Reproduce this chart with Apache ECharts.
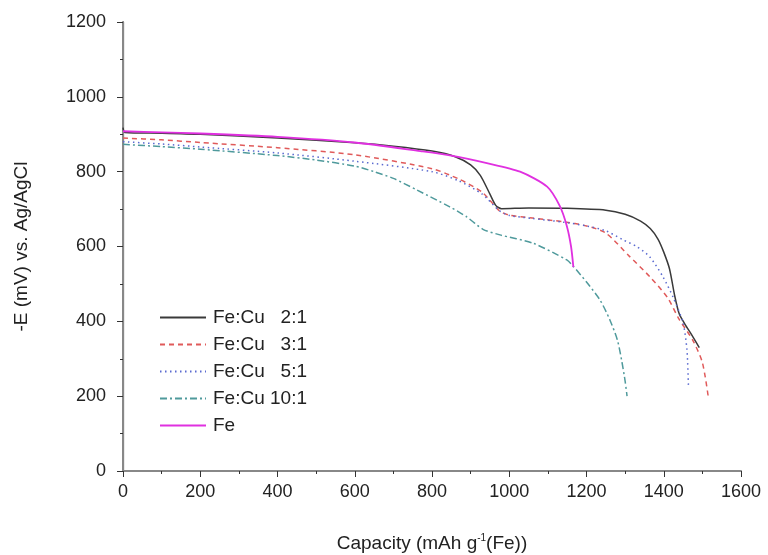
<!DOCTYPE html>
<html>
<head>
<meta charset="utf-8">
<script src="https://cdn.jsdelivr.net/npm/echarts@6/dist/echarts.min.js"></script>
<style>html,body{margin:0;padding:0;background:#fff;}#c{width:768px;height:555px;}</style>
</head>
<body>
<div id="c"></div>
<script>
const xTicks = [0, 200, 400, 600, 800, 1000, 1200, 1400, 1600];
const yTicks = [0, 200, 400, 600, 800, 1000, 1200];
const seriesNames = ['Fe:Cu   2:1', 'Fe:Cu   3:1', 'Fe:Cu   5:1', 'Fe:Cu 10:1', 'Fe'];

const cap21 = [0, 5, 100, 200, 400, 600, 700, 800, 860, 900, 925, 950, 965, 980, 1050, 1150, 1250, 1300, 1340, 1365, 1385, 1400, 1415, 1428, 1440, 1455, 1470, 1492];
const e21   = [918, 905, 903, 900, 890, 877, 868, 855, 840, 818, 790, 740, 710, 701, 703, 702, 697, 686, 668, 648, 620, 585, 540, 470, 420, 392, 368, 330];

const cap31 = [0, 100, 200, 400, 600, 800, 870, 930, 975, 1000, 1060, 1140, 1200, 1250, 1310, 1365, 1410, 1440, 1475, 1500, 1515];
const e31   = [890, 885, 878, 864, 845, 808, 780, 745, 695, 684, 676, 666, 655, 636, 575, 518, 463, 405, 350, 290, 200];

const cap51 = [0, 100, 200, 400, 600, 800, 870, 930, 975, 1000, 1060, 1140, 1200, 1250, 1294, 1330, 1364, 1398, 1424, 1450, 1460, 1464];
const e51   = [880, 874, 866, 850, 828, 800, 775, 740, 695, 683, 675, 665, 655, 642, 618, 600, 572, 519, 465, 396, 324, 225];

const cap101 = [0, 100, 200, 400, 500, 600, 650, 700, 761, 846, 890, 932, 976, 1061, 1149, 1165, 1200, 1235, 1260, 1280, 1292, 1300, 1305];
const e101   = [873, 867, 860, 843, 831, 815, 800, 782, 751, 706, 679, 646, 631, 609, 564, 548, 505, 457, 405, 350, 290, 240, 200];

const capFe = [0, 100, 200, 400, 600, 770, 850, 942, 1028, 1098, 1131, 1149, 1160, 1166];
const eFe   = [908, 905, 902, 893, 878, 855, 843, 823, 800, 760, 708, 655, 600, 545];

function pairs(xs, ys) { return xs.map((x, i) => [x, ys[i]]); }

const colors = ['#3a3a3a', '#e05a5a', '#5a6ad0', '#4f9a9c', '#e030e0'];
const types = ['solid', [5, 4], [1.5, 3.5], [7, 3, 2, 3], 'solid'];
const data = [pairs(cap21, e21), pairs(cap31, e31), pairs(cap51, e51), pairs(cap101, e101), pairs(capFe, eFe)];

const chart = echarts.init(document.getElementById('c'));
const font = 'Liberation Sans, Arial, sans-serif';
chart.setOption({
  backgroundColor: '#fff',
  animation: false,
  textStyle: { fontFamily: font },
  grid: { left: 123, right: 27, top: 22, bottom: 84, outerBoundsMode: 'none', containLabel: false },
  legend: {
    orient: 'vertical', left: 154, top: 303,
    itemWidth: 46, itemHeight: 14, itemGap: 8,
    itemStyle: { opacity: 0 },
    textStyle: { fontSize: 19, color: '#222', fontFamily: font, padding: [0, 0, 0, 2] },
    data: seriesNames
  },
  xAxis: [{
    type: 'value', min: 0, max: 1600, interval: 200,
    name: 'Capacity (mAh g{sup|-1}(Fe))', nameLocation: 'middle', nameGap: 62,
    nameTextStyle: { fontSize: 19, color: '#222', rich: { sup: { fontSize: 10, verticalAlign: 'top', padding: [0, 0, 12, 0] } } },
    axisLine: { lineStyle: { color: '#333', width: 1.2 } },
    axisTick: { inside: false, length: 6, lineStyle: { color: '#333' } },
    minorTick: { show: true, splitNumber: 2, length: 3, lineStyle: { color: '#333' } },
    axisLabel: { fontSize: 18, color: '#222', margin: 12, formatter: v => String(v) },
    splitLine: { show: false }
  }, {
    type: 'value', position: 'top', min: 0, max: 1600,
    axisLine: { show: true, lineStyle: { color: '#888', width: 2 } },
    axisTick: { show: false }, axisLabel: { show: false }, splitLine: { show: false }
  }],
  yAxis: [{
    type: 'value', min: 0, max: 1200, interval: 200,
    name: '-E (mV) vs. Ag/AgCl', nameLocation: 'middle', nameGap: 92,
    nameTextStyle: { fontSize: 19, color: '#222' },
    axisLine: { show: true, lineStyle: { color: '#333', width: 1.2 } },
    axisTick: { show: true, inside: false, length: 6, lineStyle: { color: '#333' } },
    minorTick: { show: true, splitNumber: 2, length: 3, lineStyle: { color: '#333' } },
    axisLabel: { fontSize: 18, color: '#222', margin: 17, formatter: v => String(v) },
    splitLine: { show: false }
  }, {
    type: 'value', position: 'right', min: 0, max: 1200,
    axisLine: { show: true, lineStyle: { color: '#888', width: 2 } },
    axisTick: { show: false }, axisLabel: { show: false }, splitLine: { show: false }
  }],
  series: seriesNames.map((n, i) => ({
    name: n, type: 'line', data: data[i], smooth: 0.25, symbol: 'none',
    xAxisIndex: 0, yAxisIndex: 0,
    itemStyle: { color: colors[i] },
    lineStyle: { color: colors[i], width: i === 4 ? 1.8 : 1.5, type: types[i] },
    z: i === 4 ? 5 : 3
  }))
});
</script>
</body>
</html>
